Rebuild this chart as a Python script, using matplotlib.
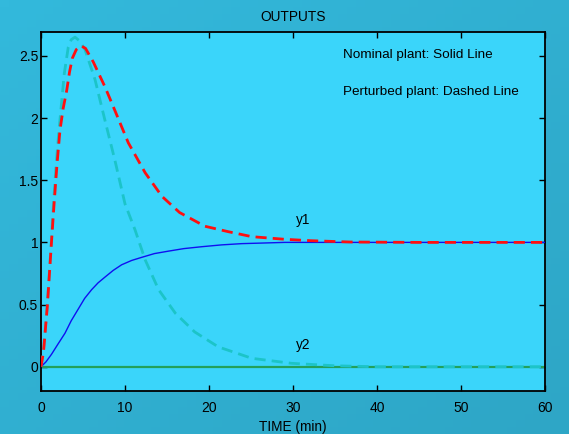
import matplotlib
matplotlib.use("Agg")
import matplotlib.pyplot as plt
import numpy as np

plt.rcParams['font.family'] = ['Liberation Sans', 'DejaVu Sans']

# Nominal plant, y1 (solid blue)
t_nom_y1 = [0, 0.6, 1.25, 2.0, 2.86, 3.6, 4.4, 5.2, 6.03, 6.8, 7.6, 8.6, 9.6, 10.8, 12.0, 13.5, 15.2, 17.0, 19.1, 21.5, 23.9, 26.5, 29, 40, 60]
v_nom_y1 = [0, 0.04, 0.1, 0.18, 0.27, 0.37, 0.46, 0.55, 0.62, 0.675, 0.72, 0.775, 0.82, 0.855, 0.88, 0.91, 0.93, 0.95, 0.965, 0.98, 0.99, 0.995, 1.0, 1.0, 1.0]

# Nominal plant, y2 (solid green)
t_nom_y2 = [0, 60]
v_nom_y2 = [0, 0]

# Perturbed plant, y1 (dashed red)
t_per_y1 = [0, 0.3, 0.75, 1.23, 1.55, 1.9, 2.26, 2.65, 3.06, 3.4, 3.73, 4.2, 4.76, 5.3, 6.23, 7.62, 8.8, 10.4, 12.4, 14.4, 16.5, 19.5, 22.3, 25.1, 29, 32, 36.8, 45, 60]
v_per_y1 = [0, 0.12, 0.48, 0.98, 1.30, 1.62, 1.90, 2.08, 2.22, 2.37, 2.48, 2.55, 2.58, 2.56, 2.45, 2.25, 2.06, 1.80, 1.56, 1.37, 1.24, 1.13, 1.086, 1.046, 1.025, 1.014, 1.003, 1.0, 1.0]

# Perturbed plant, y2 (dashed cyan)
t_per_y2 = [0, 0.3, 0.75, 1.23, 1.5, 1.8, 2.14, 2.78, 3.25, 3.6, 4.05, 4.6, 5.24, 6.43, 7.62, 8.8, 10.0, 11.2, 12.4, 14.0, 16.0, 18.3, 21.1, 25.1, 29.8, 35, 40, 60]
v_per_y2 = [0, 0.13, 0.5, 1.0, 1.32, 1.62, 1.90, 2.36, 2.57, 2.63, 2.65, 2.62, 2.55, 2.31, 1.98, 1.66, 1.31, 1.10, 0.86, 0.62, 0.43, 0.28, 0.16, 0.068, 0.028, 0.008, 0.0, 0.0]

x_ticks = [0, 10, 20, 30, 40, 50, 60]
y_ticks = [0, 0.5, 1, 1.5, 2, 2.5]
y_tick_labels = ['0', '0.5', '1', '1.5', '2', '2.5']

fig = plt.figure(figsize=(5.69, 4.34), dpi=100)
# subtle background gradient
bg = fig.add_axes([0, 0, 1, 1], zorder=-10)
gx, gy = np.meshgrid(np.linspace(0, 1, 64), np.linspace(0, 1, 64))
g = 0.5 * gx + 0.5 * gy
c1 = np.array([0x33, 0xb9, 0xdc]) / 255.0
c2 = np.array([0x2e, 0xa6, 0xc6]) / 255.0
img = c1[None, None, :] * (1 - g[..., None]) + c2[None, None, :] * g[..., None]
bg.imshow(img, aspect='auto', extent=[0, 1, 0, 1], origin='upper')
bg.axis('off')

ax = fig.add_axes([0.072, 0.099, 0.886, 0.828])
ax.set_facecolor('#3ad5fa')

ax.plot(t_nom_y2, v_nom_y2, color='#22a05a', lw=1.6, zorder=2)
ax.plot(t_nom_y1, v_nom_y1, color='#1010f0', lw=1.0, zorder=3)
ax.plot(t_per_y2, v_per_y2, color='#1cc4c8', lw=2.0, ls=(0, (4, 2.2)), zorder=4)
ax.plot(t_per_y1, v_per_y1, color='#ff1010', lw=2.0, ls=(0, (4, 2.2)), zorder=5)

ax.set_xlim(0, 60)
ax.set_ylim(-0.195, 2.694)
ax.set_xticks(x_ticks)
ax.set_yticks(y_ticks)
ax.set_yticklabels(y_tick_labels)
ax.tick_params(direction='in', top=True, right=True, length=4, width=1,
               labelsize=10, colors='black')
ax.tick_params(axis='x', pad=7.5)
ax.tick_params(axis='y', pad=2)
for s in ax.spines.values():
    s.set_linewidth(1.3)

ax.set_title('OUTPUTS', fontsize=9.9, pad=8)
ax.set_xlabel('TIME (min)', fontsize=9.8, labelpad=3)

ax.text(35.9, 2.51, 'Nominal plant: Solid Line', fontsize=9.7, va='center', ha='left')
ax.text(35.9, 2.21, 'Perturbed plant: Dashed Line', fontsize=9.7, va='center', ha='left')
ax.text(30.3, 1.18, 'y1', fontsize=9.8, va='center', ha='left')
ax.text(30.3, 0.175, 'y2', fontsize=9.8, va='center', ha='left')

fig.savefig('out.png', dpi=100)
